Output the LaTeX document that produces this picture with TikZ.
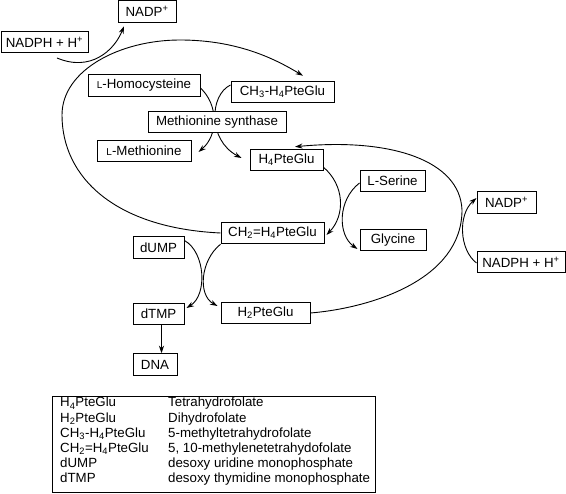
\documentclass[tikz,border=0pt]{standalone}
\usepackage{fontspec}
\setmainfont{Liberation Sans}
\usetikzlibrary{arrows.meta,backgrounds}
\newcommand\scL{{\fontsize{10}{10}\selectfont L}}
\begin{document}
\begin{tikzpicture}[x=1pt,y=-1pt,
  box/.style={draw, line width=1pt, fill=white, minimum height=21.5pt, inner sep=0pt, font=\fontsize{13.3}{15}\selectfont},
  arr/.style={line width=0.9pt, -{Stealth[length=7.5pt,width=5pt]}}]
\useasboundingbox (0,0) rectangle (566,494);
% nodes
\node[box,minimum width=58pt] (nadpT) at (147,11.5) {NADP\textsuperscript{+}};
\node[box,minimum width=87pt,minimum height=20.5pt] (nadphL) at (44.5,42) {NADPH + H\textsuperscript{+}};
\node[box,minimum width=112pt] (hcys) at (144,85.5) {\scL-Homocysteine};
\node[box,minimum width=103pt] (ch3) at (282.5,92) {CH\textsubscript{3}-H\textsubscript{4}PteGlu};
\node[box,minimum width=138pt] (ms) at (217,122) {Methionine synthase};
\node[box,minimum width=94pt] (met) at (144,151) {\scL-Methionine};
\node[box,minimum width=73pt] (h4) at (286.5,160) {H\textsubscript{4}PteGlu};
\node[box,minimum width=65pt] (ser) at (392.5,181) {L-Serine};
\node[box,minimum width=59pt] (nadpR) at (506.5,202.5) {NADP\textsuperscript{+}};
\node[box,minimum width=103pt] (ch2) at (272.5,233) {CH\textsubscript{2}=H\textsubscript{4}PteGlu};
\node[box,minimum width=66pt] (gly) at (393,240) {Glycine};
\node[box,minimum width=51pt] (dump) at (158.5,247.5) {dUMP};
\node[box,minimum width=88pt] (nadphR) at (521,262) {NADPH + H\textsuperscript{+}};
\node[box,minimum width=51pt] (dtmp) at (158.5,314) {dTMP};
\node[box,minimum width=89pt] (h2) at (265.5,313) {H\textsubscript{2}PteGlu};
\node[box,minimum width=44pt] (dna) at (155,364.5) {DNA};
% legend
\node[draw, line width=1pt, minimum width=323pt, minimum height=96.5pt, inner sep=0pt, anchor=north west] (leg) at (52,396) {};
\node[anchor=base west, inner sep=0pt, font=\fontsize{13.3}{15.2}\selectfont] (legtxt) at (60,407) {%
\begin{tabular}[t]{@{}p{108pt}@{}l@{}}
H\textsubscript{4}PteGlu & Tetrahydrofolate\\
H\textsubscript{2}PteGlu & Dihydrofolate\\
CH\textsubscript{3}-H\textsubscript{4}PteGlu & 5-methyltetrahydrofolate\\
CH\textsubscript{2}=H\textsubscript{4}PteGlu & 5, 10-methylenetetrahydofolate\\
dUMP & desoxy uridine monophosphate\\
dTMP & desoxy thymidine monophosphate
\end{tabular}};
% free ends
\coordinate (s1) at (57,58);
\coordinate (dt) at ([xshift=3pt]dtmp.south);
\begin{pgfonlayer}{background}
% big left loop
\draw[arr] (ch2.west) .. controls +(-106,-5) and +(0,62) .. (62,115)
  .. controls +(0,-45) and +(-60,0) .. (180,40)
  .. controls +(60,0) and +(-25,-15) .. ([xshift=20.5pt,yshift=5pt]ch3.north);
% NADPH -> NADP+ (top)
\draw[arr] (s1) .. controls +(33,14) and +(-10,25) .. ([xshift=-23pt,yshift=-3.5pt]nadpT.south);
% homocysteine -> methionine
\draw[arr] ([yshift=-2.5pt]hcys.east) .. controls +(18,17) and +(20,-17) .. ([xshift=7pt,yshift=-1pt]met.east);
% CH3-H4PteGlu -> H4PteGlu
\draw[arr] ([yshift=7pt]ch3.west) .. controls +(-21,10) and +(-34,-18) .. ([xshift=-8pt,yshift=2pt]h4.west);
% H4 -> CH2
\draw[arr] ([yshift=4pt]h4.south east) .. controls +(21,18) and +(19,-20) .. ([xshift=2pt,yshift=-2pt]ch2.east);
% serine -> glycine
\draw[arr] ([yshift=-2pt]ser.west) .. controls +(-22,17) and +(-20,-14) .. ([xshift=-2pt,yshift=-9pt]gly.west);
% big right loop
\draw[arr] (h2.east) .. controls +(60,-5) and +(0,70) .. (462,210)
  .. controls +(-2,-50) and +(95,-9) .. ([xshift=8.5pt,yshift=2pt]h4.north);
% NADPH -> NADP+ (right)
\draw[arr] ([yshift=-1pt]nadphR.west) .. controls +(-17,-13) and +(-19,17) .. ([yshift=4.5pt]nadpR.west);
% CH2 -> H2
\draw[arr] (ch2.south west) .. controls +(-20,16) and +(-20,-11) .. ([xshift=-3pt,yshift=7pt]h2.west);
% dUMP -> dTMP
\draw[arr] ([yshift=7pt]dump.east) .. controls +(21,12) and +(21,-13) .. ([xshift=2pt,yshift=6pt]dtmp.east);
% dTMP -> DNA
\draw[arr] (dt) -- (dt |- dna.north);
\end{pgfonlayer}
\end{tikzpicture}
\end{document}
